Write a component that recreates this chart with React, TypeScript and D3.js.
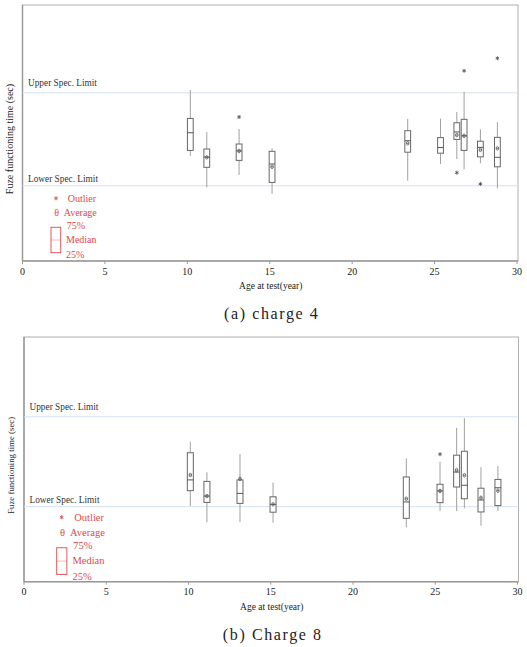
import React from "react";
import * as d3 from "d3";

// ---------- Data (values in relative units, 0..100 from bottom of plot) ----------
const xTicks = [0, 5, 10, 15, 20, 25, 30];

// (a) charge 4
const ageA = [10.18, 11.18, 13.14, 15.14, 23.37, 25.36, 26.35, 26.79, 27.78, 28.81];
const lowA = [41.1, 28.8, 33.6, 26.2, 31.4, 37.9, 39.8, 35.8, 38.2, 28.4];
const q1A = [43.2, 36.6, 39.3, 30.7, 42.5, 42.1, 47.5, 43.2, 40.7, 36.8];
const medianA = [50.1, 40.6, 43.0, 37.9, 47.0, 44.3, 50.4, 48.9, 44.4, 40.5];
const q3A = [55.7, 43.75, 45.7, 42.85, 50.9, 48.2, 54.0, 55.35, 46.8, 48.3];
const highA = [66.8, 50.3, 51.6, 44.0, 55.5, 55.6, 58.2, 66.1, 51.4, 54.3];
const meanA: (number | null)[] = [null, 40.5, 43.0, 36.8, 46.0, null, 49.2, 48.9, 43.4, 44.0];
const outlierAgeA = [13.14, 26.35, 26.79, 27.78, 28.81];
const outlierValA = [56.25, 34.5, 74.3, 30.1, 79.2];
const specA = { lsl: 29.4, usl: 65.7 };

// (b) Charge 8
const ageB = [10.11, 11.12, 13.13, 15.14, 23.24, 25.29, 26.3, 26.77, 27.78, 28.81];
const lowB = [30.9, 24.3, 24.3, 24.1, 22.2, 28.9, 28.9, 30.0, 22.9, 28.9];
const q1B = [37.2, 32.4, 32.0, 28.4, 25.9, 32.3, 38.7, 33.9, 28.5, 31.1];
const medianB = [41.6, 35.0, 36.1, 31.6, 32.6, 37.1, 44.8, 39.4, 33.4, 38.4];
const q3B = [52.7, 41.0, 41.6, 34.7, 42.8, 39.8, 51.7, 53.3, 38.2, 41.8];
const highB = [57.2, 44.7, 52.2, 40.5, 50.4, 49.0, 62.9, 66.8, 46.8, 47.3];
const meanB: (number | null)[] = [43.6, 35.0, 42.0, 31.6, 33.9, 37.1, 45.6, 43.5, 34.3, 37.2];
const outlierAgeB = [25.29];
const outlierValB = [52.1];
const specB = { lsl: 30.65, usl: 67.4 };

const SERIF = "Liberation Serif, Times New Roman, serif";
const RED = "#e2474b";

type PanelProps = {
  left: number;
  right: number;
  top: number;
  bottom: number;
  frameRight: number;
  ages: number[];
  low: number[];
  q1: number[];
  median: number[];
  q3: number[];
  high: number[];
  mean: (number | null)[];
  outAge: number[];
  outVal: number[];
  spec: { lsl: number; usl: number };
  caption: string;
  yLabelSize: number;
  legend: { x: number; y: number; s: number };
  boxW: number;
};

function Panel(p: PanelProps) {
  const x = d3.scaleLinear().domain([0, 30]).range([p.left, p.right]);
  const y = d3.scaleLinear().domain([0, 100]).range([p.bottom, p.top]);
  const hw = p.boxW / 2;
  const star = d3.symbol().type(d3.symbolAsterisk).size(11)();
  const midX = (p.left + p.right) / 2;
  const L = p.legend;
  return (
    <g>
      {/* frame */}
      <rect x={p.left} y={p.top} width={p.frameRight - p.left} height={p.bottom - p.top}
        fill="none" stroke="#b0b0b0" strokeWidth={1} />
      <line x1={p.left} x2={p.left} y1={p.top} y2={p.bottom} stroke="#9a9a9a" strokeWidth={1.5} />
      <line x1={p.left} x2={p.frameRight} y1={p.bottom} y2={p.bottom} stroke="#9a9a9a" strokeWidth={1.5} />
      {/* spec limits */}
      {[p.spec.usl, p.spec.lsl].map((v, i) => (
        <line key={i} x1={p.left} x2={p.frameRight} y1={y(v)} y2={y(v)} stroke="#d3e2f3" strokeWidth={1} />
      ))}
      <text x={p.left + 5.5} y={y(p.spec.usl) - 7} fontFamily={SERIF} fontSize={9.3} fill="#333">Upper Spec. Limit</text>
      <text x={p.left + 5.5} y={y(p.spec.lsl) - 3.5} fontFamily={SERIF} fontSize={9.3} fill="#333">Lower Spec. Limit</text>
      {/* x ticks */}
      {xTicks.map((t) => (
        <g key={t}>
          <line x1={x(t)} x2={x(t)} y1={p.bottom} y2={p.bottom + 3} stroke="#9a9a9a" />
          <text x={x(t)} y={p.bottom + 13.5} textAnchor="middle" fontFamily={SERIF} fontSize={10} fill="#222">{t}</text>
        </g>
      ))}
      <text x={midX + 1} y={p.bottom + 28} textAnchor="middle" fontFamily={SERIF} fontSize={9.5} fill="#222">Age at test(year)</text>
      <text transform={`translate(${p.left - 10},${(p.top + p.bottom) / 2 + 6}) rotate(-90)`} textAnchor="middle"
        fontFamily={SERIF} fontSize={p.yLabelSize} fill="#222">Fuze functioning time (sec)</text>
      {/* boxes */}
      {p.ages.map((a, i) => {
        const cx = x(a);
        return (
          <g key={i}>
            <line x1={cx} x2={cx} y1={y(p.high[i])} y2={y(p.q3[i])} stroke="#a0a0a0" />
            <line x1={cx} x2={cx} y1={y(p.q1[i])} y2={y(p.low[i])} stroke="#a0a0a0" />
            <rect x={cx - hw} y={y(p.q3[i])} width={p.boxW} height={y(p.q1[i]) - y(p.q3[i])}
              fill="white" stroke="#666" strokeWidth={1} />
            <line x1={cx - hw} x2={cx + hw} y1={y(p.median[i])} y2={y(p.median[i])} stroke="#555" strokeWidth={1} />
            {p.mean[i] != null && (
              <g>
                <ellipse cx={cx} cy={y(p.mean[i] as number)} rx={1.3} ry={1.8} fill="none" stroke="#555" strokeWidth={0.8} />
                <line x1={cx - 1.3} x2={cx + 1.3} y1={y(p.mean[i] as number)} y2={y(p.mean[i] as number)} stroke="#555" strokeWidth={0.8} />
              </g>
            )}
          </g>
        );
      })}
      {p.outAge.map((a, i) => (
        <path key={i} d={star || ""} transform={`translate(${x(a)},${y(p.outVal[i])})`} stroke="#555" strokeWidth={0.9} fill="none" />
      ))}
      {/* legend */}
      <g fontFamily={SERIF} fill={RED} fontSize={10 * L.s}>
        <path d={star || ""} transform={`translate(${L.x + 5},${L.y})`} stroke={RED} strokeWidth={0.9} fill="none" />
        <text x={L.x + 16.7 * L.s} y={L.y + 3.3}>Outlier</text>
        <text x={L.x + 5.7} y={L.y + 14.5 * L.s + 3.3} textAnchor="middle">θ</text>
        <text x={L.x + 12.7 * L.s} y={L.y + 14.5 * L.s + 3.3}>Average</text>
        <text x={L.x + 15.7 * L.s} y={L.y + 27.5 * L.s + 3.3}>75%</text>
        <rect x={L.x} y={L.y + 29 * L.s} width={9.7 * L.s} height={25.4 * L.s} fill="none" stroke={RED} strokeWidth={0.9} />
        <line x1={L.x} x2={L.x + 9.7 * L.s} y1={L.y + 41.7 * L.s} y2={L.y + 41.7 * L.s} stroke={RED} strokeWidth={0.6} opacity={0.6} />
        <text x={L.x + 15 * L.s} y={L.y + 41.7 * L.s + 3.3}>Median</text>
        <text x={L.x + 15 * L.s} y={L.y + 56.7 * L.s + 3.3}>25%</text>
      </g>
      <text x={midX + 2} y={p.bottom + 58} textAnchor="middle" fontFamily={SERIF} fontSize={16} letterSpacing={1.6} fill="#222">{p.caption}</text>
    </g>
  );
}

export default function App() {
  return (
    <svg width={527} height={647} style={{ position: "absolute", left: 0, top: 0, background: "white" }}>
      <rect width={527} height={647} fill="white" />
      <Panel left={22.5} right={517} top={5} bottom={261} frameRight={518}
        ages={ageA} low={lowA} q1={q1A} median={medianA} q3={q3A} high={highA} mean={meanA}
        outAge={outlierAgeA} outVal={outlierValA} spec={specA} caption="(a) charge 4" yLabelSize={10}
        legend={{ x: 51, y: 198.3, s: 1 }} boxW={5.8} />
      <Panel left={24} right={517.5} top={337} bottom={581.7} frameRight={518.5}
        ages={ageB} low={lowB} q1={q1B} median={medianB} q3={q3B} high={highB} mean={meanB}
        outAge={outlierAgeB} outVal={outlierValB} spec={specB} caption="(b) Charge 8" yLabelSize={8.8}
        legend={{ x: 56.7, y: 517.3, s: 1.05 }} boxW={6} />
    </svg>
  );
}
